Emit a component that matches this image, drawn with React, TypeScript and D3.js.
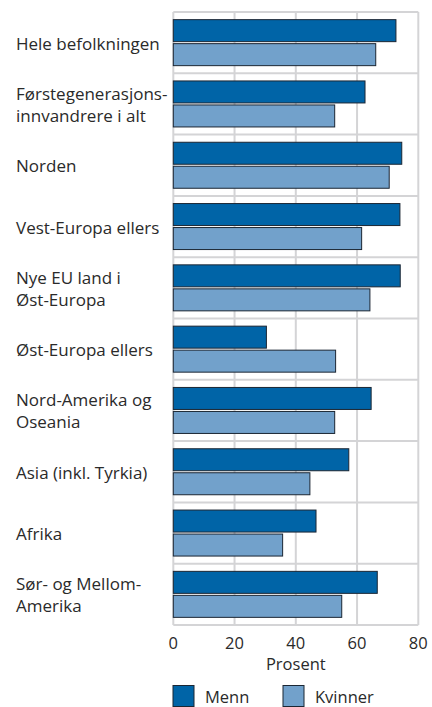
import React from "react";
import * as d3 from "d3";

const categories: string[][] = [
  ["Hele befolkningen"],
  ["Førstegenerasjons-", "innvandrere i alt"],
  ["Norden"],
  ["Vest-Europa ellers"],
  ["Nye EU land i", "Øst-Europa"],
  ["Øst-Europa ellers"],
  ["Nord-Amerika og", "Oseania"],
  ["Asia (inkl. Tyrkia)"],
  ["Afrika"],
  ["Sør- og Mellom-", "Amerika"],
];
const menn = [72.7, 62.6, 74.6, 74.0, 74.1, 30.4, 64.6, 57.3, 46.6, 66.6];
const kvinner = [66.1, 52.7, 70.5, 61.5, 64.2, 53.0, 52.7, 44.6, 35.7, 55.0];
const ticks = [0, 20, 40, 60, 80];
const seriesNames = ["Menn", "Kvinner"];
const colors = ["#0064A7", "#72A1CB"];

const W = 432;
const H = 707;
const left = 173.3;
const right = 418.3;
const top = 12;
const bottom = 625;
const font = "'Open Sans', sans-serif";
const textColor = "#2a2a2a";
const gridColor = "#d4d4d6";
const fs = 16.5;
const labelFs = 17;

export default function App() {
  const x = d3.scaleLinear().domain([0, 80]).range([left, right]);
  const y = d3
    .scaleBand<number>()
    .domain(d3.range(categories.length))
    .range([top, bottom]);
  const bw = y.bandwidth();
  const barH = 22;
  const gap = 2;
  const padTop = (bw - 2 * barH - gap) / 2;
  const lineH = 22;

  return (
    <svg
      width={W}
      height={H}
      style={{ position: "absolute", left: 0, top: 0, background: "#fff" }}
      fontFamily={font}
    >
      {ticks.map((t) => (
        <line
          key={"v" + t}
          x1={x(t)}
          x2={x(t)}
          y1={top}
          y2={bottom}
          stroke={gridColor}
          strokeWidth={2}
        />
      ))}
      {d3.range(categories.length + 1).map((i) => {
        const yy = i < categories.length ? (y(i) as number) : bottom;
        return (
          <line
            key={"h" + i}
            x1={left}
            x2={right}
            y1={yy}
            y2={yy}
            stroke={gridColor}
            strokeWidth={2}
          />
        );
      })}
      {categories.map((c, i) => {
        const y0 = (y(i) as number) + padTop;
        return (
          <g key={"b" + i}>
            <rect
              x={x(0)}
              y={y0}
              width={x(menn[i]) - x(0)}
              height={barH}
              fill={colors[0]}
              stroke="#1b2633"
              strokeWidth={1}
            />
            <rect
              x={x(0)}
              y={y0 + barH + gap}
              width={x(kvinner[i]) - x(0)}
              height={barH}
              fill={colors[1]}
              stroke="#1b2633"
              strokeWidth={1}
            />
          </g>
        );
      })}
      {categories.map((lines, i) => {
        const cy = (y(i) as number) + bw / 2;
        const start = cy - ((lines.length - 1) * lineH) / 2;
        return (
          <text
            key={"l" + i}
            x={16}
            fontSize={labelFs}
            fill={textColor}
            dominantBaseline="central"
          >
            {lines.map((ln, j) => (
              <tspan key={j} x={16} y={start + j * lineH}>
                {ln}
              </tspan>
            ))}
          </text>
        );
      })}
      {ticks.map((t) => (
        <text
          key={"t" + t}
          x={x(t)}
          y={642}
          fontSize={fs}
          fill={textColor}
          textAnchor="middle"
          dominantBaseline="central"
        >
          {t}
        </text>
      ))}
      <text
        x={x(40)}
        y={663}
        fontSize={fs}
        fill={textColor}
        textAnchor="middle"
        dominantBaseline="central"
      >
        Prosent
      </text>
      {seriesNames.map((s, i) => {
        const lx = i === 0 ? 173 : 283;
        return (
          <g key={"lg" + i}>
            <rect
              x={lx}
              y={685.5}
              width={21}
              height={21}
              fill={colors[i]}
              stroke="#1b2633"
              strokeWidth={1}
            />
            <text
              x={lx + 32}
              y={696}
              fontSize={fs}
              fill={textColor}
              dominantBaseline="central"
            >
              {s}
            </text>
          </g>
        );
      })}
    </svg>
  );
}
